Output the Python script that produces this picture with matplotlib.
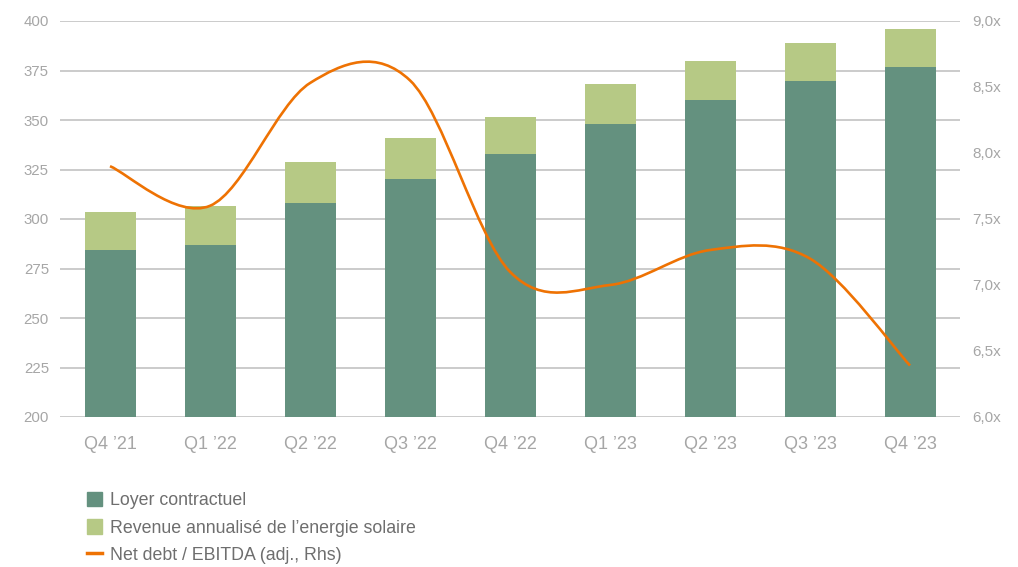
import numpy as np
import matplotlib
matplotlib.use("Agg")
import matplotlib.pyplot as plt
from matplotlib.path import Path
from matplotlib.patches import PathPatch, Patch
from matplotlib.lines import Line2D
from matplotlib.ticker import FuncFormatter

plt.rcParams['font.family'] = ['Liberation Sans', 'DejaVu Sans']

# data
quarters = ["Q4 \u201921", "Q1 \u201922", "Q2 \u201922", "Q3 \u201922", "Q4 \u201922",
            "Q1 \u201923", "Q2 \u201923", "Q3 \u201923", "Q4 \u201923"]
loyer = [284.3, 287.0, 308.0, 320.0, 332.8, 348.0, 360.0, 369.7, 376.8]
solaire_total = [303.5, 306.5, 329.0, 341.0, 351.5, 368.0, 380.0, 389.0, 396.0]
solaire = [t - l for t, l in zip(solaire_total, loyer)]
net_debt = [7.90, 7.60, 8.53, 8.55, 7.10, 7.00, 7.265, 7.20, 6.39]

c_dark = "#64917F"
c_light = "#B6C985"
c_orange = "#EE7203"
c_grid = "#CBCBCB"
c_tick = "#A6A6A6"
c_legend = "#6E6E6E"

fig = plt.figure(figsize=(10.18, 5.67), dpi=100)
ax = fig.add_axes([60/1018, 1 - 417/567, 900/1018, 396/567])

x = np.arange(len(quarters))
ax.bar(x, loyer, width=0.51, color=c_dark, bottom=0)
ax.bar(x, solaire, width=0.51, bottom=loyer, color=c_light)

ax.set_xlim(-0.5, len(quarters) - 0.5)
ax.set_ylim(200, 400)
ax.set_yticks(np.arange(200, 401, 25))
ax.set_xticks(x)
ax.set_xticklabels(quarters, fontsize=13, color=c_tick)
ax.tick_params(axis='y', labelsize=10.8, colors=c_tick, length=0, pad=8)
ax.tick_params(axis='x', length=0, pad=14)
ax.grid(axis='y', color=c_grid, linewidth=1.4)
ax.set_axisbelow(True)
for s in ax.spines.values():
    s.set_visible(False)

# right axis with smoothed line
ax2 = ax.twinx()
ax2.set_ylim(6.0, 9.0)
ax2.set_yticks(np.arange(6.0, 9.01, 0.5))
ax2.yaxis.set_major_formatter(FuncFormatter(lambda v, p: f"{v:.1f}".replace(".", ",") + "x"))
ax2.tick_params(axis='y', labelsize=11, colors=c_tick, length=0, pad=9)
for s in ax2.spines.values():
    s.set_visible(False)

pts = np.column_stack([x, net_debt]).astype(float)
ext = np.vstack([pts[0], pts, pts[-1]])
verts = [tuple(pts[0])]
codes = [Path.MOVETO]
for i in range(len(pts) - 1):
    p0, p1, p2, p3 = ext[i], ext[i + 1], ext[i + 2], ext[i + 3]
    c1 = p1 + (p2 - p0) / 6
    c2 = p2 - (p3 - p1) / 6
    verts += [tuple(c1), tuple(c2), tuple(p2)]
    codes += [Path.CURVE4] * 3
ax2.add_patch(PathPatch(Path(verts, codes), facecolor='none', edgecolor=c_orange,
                        linewidth=1.9, capstyle='butt'))

handles = [Patch(color=c_dark), Patch(color=c_light),
           Line2D([], [], color=c_orange, linewidth=2.5)]
labels = ["Loyer contractuel", "Revenue annualis\u00e9 de l\u2019energie solaire",
          "Net debt / EBITDA (adj., Rhs)"]
fig.legend(handles, labels, loc='upper left', bbox_to_anchor=(80/1018, 1 - 485/567),
           frameon=False, fontsize=12.8, labelcolor=c_legend, handlelength=0.85,
           handleheight=0.85, handletextpad=0.45, labelspacing=0.57, borderaxespad=0)

fig.savefig("out.png", dpi=100)
